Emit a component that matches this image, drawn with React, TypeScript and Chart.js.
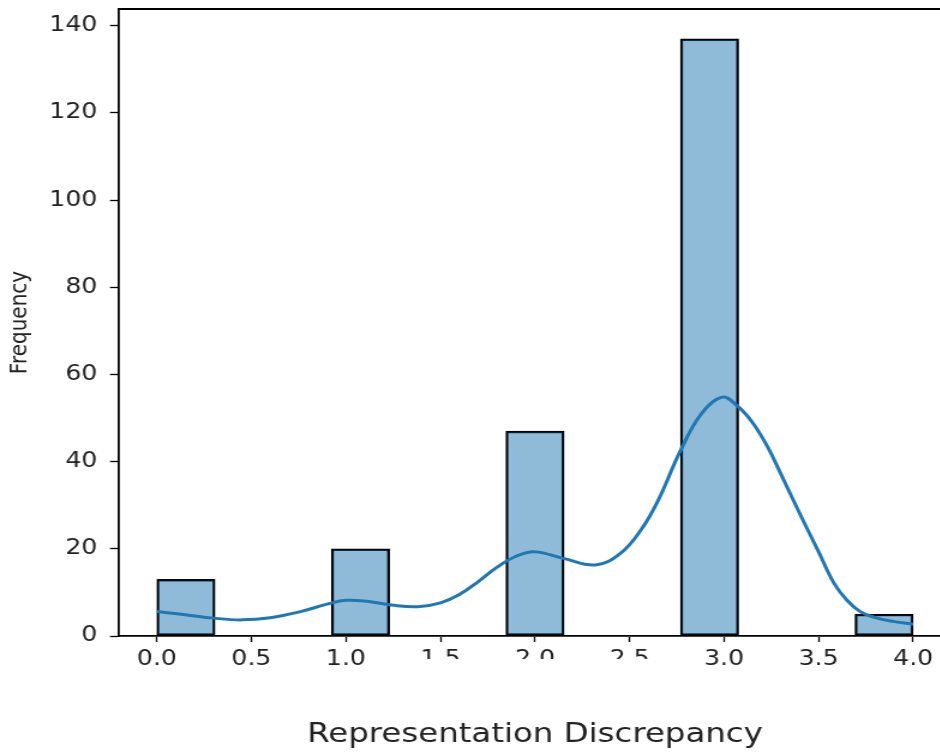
import React, { useEffect, useRef } from "react";
import { Chart, registerables } from "chart.js";

Chart.register(...registerables);

// ---- data ----
const binStart = 0;
const binEnd = 4;
const binCounts = [13, 0, 0, 20, 0, 0, 47, 0, 0, 137, 0, 0, 5];

const kdeX = [0, 0.15, 0.3, 0.45, 0.6, 0.76, 0.9, 1.0, 1.12, 1.24, 1.38, 1.5, 1.6, 1.7, 1.8, 1.9, 2.0, 2.15, 2.32, 2.45, 2.56, 2.65, 2.77, 2.88, 2.99, 3.07, 3.15, 3.23, 3.3, 3.4, 3.5, 3.58, 3.65, 3.72, 3.8, 3.9, 4.0];
const kdeY = [5.6, 4.9, 4.1, 3.7, 4.2, 5.6, 7.3, 8.2, 7.9, 7.1, 6.7, 7.6, 9.5, 12.5, 15.8, 18.3, 19.3, 17.8, 16.3, 18.9, 24.3, 31, 42.6, 51, 54.8, 52.8, 49.0, 43.4, 37.2, 28.1, 19.3, 12.2, 8.2, 5.6, 4.2, 3.3, 2.7];

const xTickValues = [0, 0.5, 1, 1.5, 2, 2.5, 3, 3.5, 4];
const yTickValues = [0, 20, 40, 60, 80, 100, 120, 140];
const xTitle = "Representation Discrepancy";
const yTitle = "Frequency";

const X_MIN = -0.2;
const X_MAX = 4.2;
const Y_MAX = 143.85;

const STRETCH = 1.2;
const LOGICAL_W = 800;
const H = 752;

const framePlugin = {
  id: "frameAndMask",
  afterDraw(chart: any) {
    const { ctx, chartArea, scales } = chart;
    ctx.save();
    ctx.strokeStyle = "#000";
    ctx.lineWidth = 1.8;
    ctx.beginPath();
    ctx.moveTo(chartArea.left, chartArea.top);
    ctx.lineTo(chartArea.right, chartArea.top);
    ctx.lineTo(chartArea.right, chartArea.bottom);
    ctx.stroke();
    // the reference has the lower half of the middle tick labels cut away
    const x0 = scales.x.getPixelForValue(1.3);
    const x1 = scales.x.getPixelForValue(2.7);
    ctx.fillStyle = "#fff";
    ctx.fillRect(x0, chartArea.bottom + 23, x1 - x0, 30);
    ctx.restore();
  },
};

const zeroPad = (s: any) => {
  s.paddingTop = 0;
  s.paddingBottom = 0;
  s.paddingLeft = 0;
  s.paddingRight = 0;
};

export default function App() {
  const ref = useRef<HTMLCanvasElement | null>(null);

  useEffect(() => {
    if (!ref.current) return;
    const binWidth = (binEnd - binStart) / binCounts.length;
    const barData = binCounts.map((c, i) => ({ x: binStart + (i + 0.5) * binWidth, y: c }));
    const kdeData = kdeX.map((x, i) => ({ x, y: kdeY[i] }));

    const chart = new Chart(ref.current, {
      type: "bar",
      data: {
        datasets: [
          {
            type: "line",
            data: kdeData,
            borderColor: "#1f77b4",
            borderWidth: 3,
            pointRadius: 0,
            tension: 0.4,
            fill: false,
            order: 0,
          } as any,
          {
            type: "bar",
            data: barData,
            backgroundColor: "rgba(31,119,180,0.5)",
            borderColor: "#000",
            borderWidth: 1.8,
            borderSkipped: false,
            barPercentage: 1,
            categoryPercentage: 1,
            order: 1,
          } as any,
        ],
      },
      options: {
        animation: false,
        responsive: false,
        maintainAspectRatio: false,
        events: [],
        layout: { padding: { left: 0, right: LOGICAL_W - 792.5, top: 9, bottom: 0 } },
        plugins: { legend: { display: false }, tooltip: { enabled: false } },
        scales: {
          x: {
            type: "linear",
            min: X_MIN,
            max: X_MAX,
            offset: false,
            afterBuildTicks: (s: any) => {
              s.ticks = xTickValues.map((v) => ({ value: v }));
            },
            afterFit: (s: any) => {
              s.height = 116;
              zeroPad(s);
            },
            grid: {
              display: true,
              offset: false,
              drawOnChartArea: false,
              drawTicks: true,
              tickLength: 6,
              tickColor: "#000",
              tickWidth: 1.3,
            },
            border: { display: true, color: "#000", width: 1.8 },
            ticks: {
              color: "#222",
              padding: 5,
              maxRotation: 0,
              autoSkip: false,
              font: { family: "DejaVu Sans", size: 21 },
              callback: (v: any) => Number(v).toFixed(1),
            },
            title: {
              display: true,
              text: xTitle,
              color: "#222",
              font: { family: "DejaVu Sans", size: 27 },
              padding: { top: 0, bottom: 1 },
            },
          },
          y: {
            type: "linear",
            min: 0,
            max: Y_MAX,
            afterBuildTicks: (s: any) => {
              s.ticks = yTickValues.map((v) => ({ value: v }));
            },
            afterFit: (s: any) => {
              s.width = 99.2;
              zeroPad(s);
            },
            grid: {
              display: true,
              offset: false,
              drawOnChartArea: false,
              drawTicks: true,
              tickLength: 7.5,
              tickColor: "#000",
              tickWidth: 1.3,
            },
            border: { display: true, color: "#000", width: 1.8 },
            ticks: {
              color: "#222",
              padding: 10.5,
              autoSkip: false,
              font: { family: "DejaVu Sans", size: 21 },
              callback: (v: any) => String(v),
            },
            title: {
              display: true,
              text: yTitle,
              color: "#222",
              font: { family: "DejaVu Sans", size: 20 },
              padding: { top: 5, bottom: 0 },
            },
          },
        },
      },
      plugins: [framePlugin],
    });
    return () => chart.destroy();
  }, []);

  return (
    <div
      style={{
        position: "fixed",
        left: 0,
        top: 0,
        width: 940,
        height: 752,
        overflow: "hidden",
        background: "#fff",
      }}
    >
      <canvas
        ref={ref}
        width={LOGICAL_W}
        height={H}
        style={{
          width: LOGICAL_W,
          height: H,
          display: "block",
          transform: `scaleX(${STRETCH})`,
          transformOrigin: "0 0",
        }}
      />
    </div>
  );
}
